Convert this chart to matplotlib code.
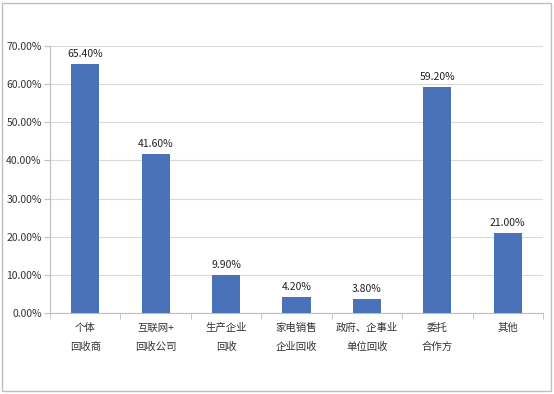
import matplotlib
matplotlib.use("Agg")
import matplotlib.pyplot as plt
from matplotlib.patches import Rectangle
import numpy as np

plt.rcParams['font.family'] = ['Noto Sans CJK SC', 'DejaVu Sans']

CATEGORIES = ["个体\n回收商", "互联网+\n回收公司", "生产企业\n回收", "家电销售\n企业回收",
              "政府、企事业\n单位回收", "委托\n合作方", "其他"]
VALUES = [65.40, 41.60, 9.90, 4.20, 3.80, 59.20, 21.00]
YTICKS = [0, 10, 20, 30, 40, 50, 60, 70]

fig = plt.figure(figsize=(5.54, 3.94), dpi=100)
ax = fig.add_axes([0.0903, 0.2056, 0.8897, 0.6776])

x = np.arange(len(CATEGORIES))
ax.bar(x, VALUES, width=0.4, color="#4a72b8", zorder=3)
for xi, v in zip(x, VALUES):
    ax.text(xi, v + 1.3, f"{v:.2f}%", ha="center", va="bottom", fontsize=7.5, color="#222222")

ax.set_xlim(-0.5, len(CATEGORIES) - 0.5)
ax.set_ylim(0, 70)
ax.set_yticks(YTICKS)
ax.set_yticklabels([f"{t:.2f}%" for t in YTICKS], fontsize=7.5, color="#333333")
ax.yaxis.grid(True, color="#d9d9d9", lw=0.8, zorder=0)
ax.set_xticks(x)
ax.set_xticklabels(CATEGORIES, fontsize=7.5, color="#333333", linespacing=2.1)
ax.set_xticks(np.arange(len(CATEGORIES) + 1) - 0.5, minor=True)
ax.tick_params(axis="x", which="major", length=0, pad=7)
ax.tick_params(axis="x", which="minor", length=4, color="#bfbfbf")
ax.tick_params(axis="y", length=4, color="#bfbfbf", pad=2)
for side in ["top", "right"]:
    ax.spines[side].set_visible(False)
ax.spines["left"].set_color("#bfbfbf")
ax.spines["bottom"].set_color("#bfbfbf")

fig.patches.append(Rectangle((0.004, 0.008), 0.99, 0.985, transform=fig.transFigure,
                             fill=False, edgecolor="#bfbfbf", lw=1.0))

fig.savefig("out.png", dpi=100)
